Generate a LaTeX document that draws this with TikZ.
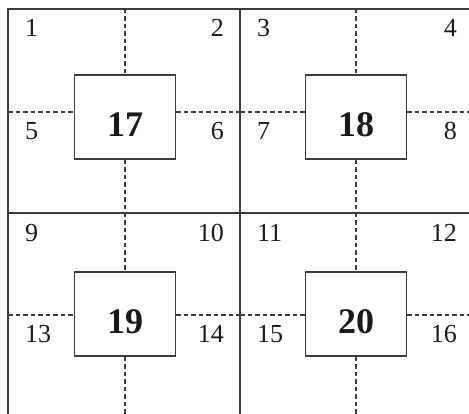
\documentclass[tikz,border=0pt]{standalone}
\usepackage{fontspec}
\setmainfont{Liberation Serif}
\usepackage{xcolor}
\usetikzlibrary{positioning,calc}
\definecolor{ink}{HTML}{1A1A1A}
\definecolor{inkgray}{HTML}{3C3C3C}
\tikzset{
  gridline/.style={draw=inkgray,line width=1.4pt},
  guideline/.style={draw=inkgray,line width=1.2pt,dash pattern=on 4.5pt off 3pt},
  zonebox/.style={draw=inkgray,fill=white,line width=1.2pt,
                  minimum width=101pt,minimum height=84pt,inner sep=0pt,
                  font=\fontsize{36}{40}\selectfont\bfseries,text=ink,
                  text height=39pt,text depth=0pt},
  cellnum/.style={font=\fontsize{26}{30}\selectfont,inner sep=0pt,text=ink}
}

\begin{document}
\begin{tikzpicture}[x=1pt,y=-1pt]
  \useasboundingbox[fill=white] (0,0) rectangle (469,414);
  % frame and cell borders
  \draw[gridline] (8,414) -- (8,9) -- (469,9);
  \draw[gridline] (240,9) -- (240,414);
  \draw[gridline] (8,213) -- (469,213);
  % centre boxes with dashed guides to the cell borders
  \foreach \bx/\by/\hy/\lx/\rx/\ty/\dy/\num in {
      125/117/112/8/240/9/213/17,
      356/117/112/240/469/9/213/18,
      125/314/315/8/240/213/414/19,
      356/314/315/240/469/213/414/20} {
    \node[zonebox] (b\num) at (\bx,\by) {\num};
    \coordinate (top\num) at (\bx,\ty);
    \coordinate (bot\num) at (\bx,\dy);
    \coordinate (lft\num) at (\lx,\hy);
    \coordinate (rgt\num) at (\rx,\hy);
    \draw[guideline] (top\num) -- (b\num.north);
    \draw[guideline] (b\num.south) -- (bot\num);
    \draw[guideline] (lft\num) -- (b\num.west |- lft\num);
    \draw[guideline] (b\num.east |- rgt\num) -- (rgt\num);
  }
  % corner numbers
  \foreach \k/\x/\y in {1/25/37,5/25/140,3/257/37,7/257/140,
                        9/25/242,13/25/343,11/257/242,15/257/343}
    \node[cellnum,anchor=base west] (n\k) at (\x,\y) {\k};
  \foreach \k/\x/\y in {2/224/37,6/224/140,4/457/37,8/457/140,
                        10/224/242,14/224/343,12/457/242,16/457/343}
    \node[cellnum,anchor=base east] (n\k) at (\x,\y) {\k};
\end{tikzpicture}
\end{document}
